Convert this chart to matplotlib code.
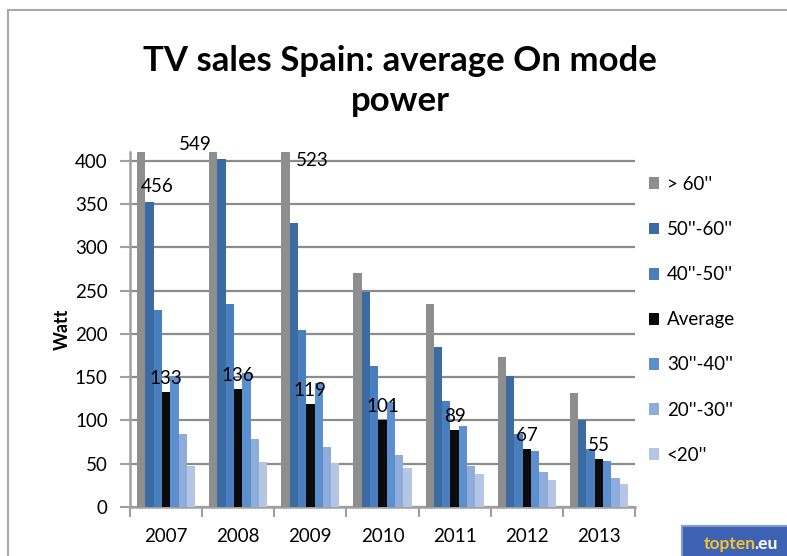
import numpy as np
import matplotlib.pyplot as plt
from matplotlib.patches import Rectangle

# Dữ liệu
years = ['2007', '2008', '2009', '2010', '2011', '2012', '2013']
series = ['> 60\'\'', '50\'\'-60\'\'', '40\'\'-50\'\'', 'Average', '30\'\'-40\'\'', '20\'\'-30\'\'', '<20\'\'']
gt60 = [456, 549, 523, 270, 234, 173, 132]
s50_60 = [352, 402, 328, 248, 185, 151, 101]
s40_50 = [228, 234, 205, 163, 122, 84, 67]
average = [133, 136, 119, 101, 89, 67, 55]
s30_40 = [150, 155, 143, 121, 93, 65, 53]
s20_30 = [84, 79, 69, 60, 47, 40, 33]
lt20 = [47, 52, 51, 45, 38, 31, 26]

colors = ['#8e8e8e', '#3c6aa3', '#4a7fbf', '#0a0a0a', '#5b8fd0', '#8eaddb', '#b5c6e5']

plt.rcParams['font.family'] = ['Lato', 'DejaVu Sans']

W, H = 787, 556
fig = plt.figure(figsize=(W / 100, H / 100), dpi=100)
ax = fig.add_axes([130 / W, 1 - 507 / H, 505 / W, (507 - 152) / H])

data = [gt60, s50_60, s40_50, average, s30_40, s20_30, lt20]
x = np.arange(len(years))
w = 0.115
bars = []
for i, (vals, c, name) in enumerate(zip(data, colors, series)):
    b = ax.bar(x + (i - 3) * w, vals, w, color=c, label=name, zorder=3)
    bars.append(b)

ax.set_xlim(-0.5, len(years) - 0.5)
ax.set_ylim(0, 410)
ax.set_yticks(np.arange(0, 401, 50))
ax.tick_params(axis='y', labelsize=13.5, length=7, width=1.5, color='#a0a0a0', pad=9)
ax.set_xticks(x)
ax.set_xticklabels(years, fontsize=13.5)
ax.set_xticks(np.arange(-0.5, len(years), 1), minor=True)
ax.tick_params(axis='x', which='major', length=0, pad=15)
ax.tick_params(axis='x', which='minor', length=7, width=1.5, color='#a0a0a0')
ax.yaxis.grid(True, color='#8c8c8c', lw=1.6, zorder=0)
ax.set_axisbelow(True)
for s in ['top', 'right']:
    ax.spines[s].set_visible(False)
for s in ['left', 'bottom']:
    ax.spines[s].set_color('#a0a0a0')
    ax.spines[s].set_linewidth(1.8)
ax.set_ylabel('Watt', fontsize=13, fontweight='bold')
ax.yaxis.set_label_coords(-0.118, 0.5)

# Nhãn giá trị trung bình
for rect, v in zip(bars[3], average):
    ax.annotate(str(v), (rect.get_x() + rect.get_width() / 2, v),
                xytext=(0, 5), textcoords='offset pixels',
                ha='center', va='bottom', fontsize=13.5, zorder=5)

# Nhãn cho các cột > 60" bị cắt
offsets = [(16, -35), (-18, 8), (27, -8)]
for rect, v, off in zip(bars[0], gt60, offsets):
    ax.annotate(str(v), (rect.get_x() + rect.get_width() / 2, 410),
                xytext=off, textcoords='offset pixels', annotation_clip=False,
                ha='center', va='center', fontsize=13.5, zorder=5)

fig.text(400 / W, 1 - 81 / H, 'TV sales Spain: average On mode\npower',
         ha='center', va='center', fontsize=25, fontweight='bold', linespacing=1.3)

fig.legend(loc='upper left', bbox_to_anchor=(649 / W, 1 - 176 / H), frameon=False,
           fontsize=13.5, handlelength=0.55, handleheight=0.6, handletextpad=0.4,
           labelspacing=1.5, borderpad=0, borderaxespad=0)

# Khung viền ngoài
fig.patches.append(Rectangle((8 / W, -0.1), 1.2, 1 - 10 / H + 0.1,
                             transform=fig.transFigure, fill=False,
                             ec='#a8a8a8', lw=1.5))

# Logo topten.eu
fig.patches.append(Rectangle((682 / W, -0.05), 0.2, (556 - 526) / H + 0.05,
                             transform=fig.transFigure, fc='#3d62b4',
                             ec='#7f9ad8', lw=1.5))
fig.text(704 / W, 1 - 544 / H, 'topten', color='#f2c230', fontsize=12.5,
         fontweight='bold', va='center')
fig.text(754 / W, 1 - 544 / H, '.eu', color='white', fontsize=12.5,
         fontweight='bold', va='center')

fig.savefig('out.png', dpi=100)
